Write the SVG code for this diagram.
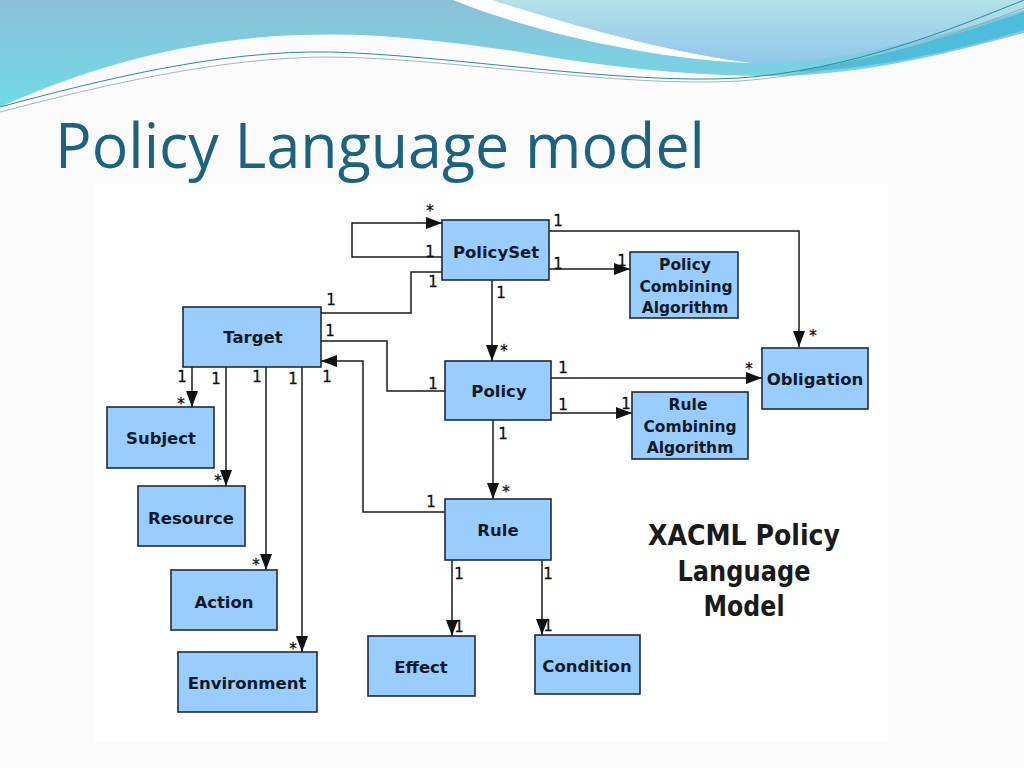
<svg xmlns="http://www.w3.org/2000/svg" width="1024" height="768" viewBox="0 0 1024 768">
<defs>
<linearGradient id="gBlue" x1="0" y1="0" x2="0" y2="110" gradientUnits="userSpaceOnUse">
<stop offset="0" stop-color="#8cc0d8"/>
<stop offset="1" stop-color="#6edce9"/>
</linearGradient>
<linearGradient id="gLight" x1="0" y1="0" x2="0" y2="65" gradientUnits="userSpaceOnUse">
<stop offset="0" stop-color="#b3e2e9"/>
<stop offset="1" stop-color="#90c6ea"/>
</linearGradient>
<marker id="arr" markerUnits="userSpaceOnUse" markerWidth="16" markerHeight="12" refX="16" refY="6" orient="auto">
<path d="M0,0 L16,6 L0,12 Z" fill="#111"/>
</marker>
<style>
.box{fill:#99ccff;stroke:#1d2b3a;stroke-width:1.6}
.lbl{font-family:"DejaVu Sans","Liberation Sans",sans-serif;font-weight:bold;font-size:16.5px;fill:#111a24;text-anchor:middle}
.lbl2{font-family:"DejaVu Sans","Liberation Sans",sans-serif;font-weight:bold;font-size:15.5px;fill:#111a24;text-anchor:middle}
.m{font-family:"DejaVu Sans","Liberation Sans",sans-serif;font-size:15px;fill:#111;stroke:#111;stroke-width:0.3;text-anchor:middle}
.c{fill:none;stroke:#1a1a1a;stroke-width:1.5}
.ca{fill:none;stroke:#1a1a1a;stroke-width:1.5;marker-end:url(#arr)}
.xt{font-family:"DejaVu Sans","Liberation Sans",sans-serif;font-weight:bold;font-size:28px;fill:#1a1a1a;text-anchor:middle}
</style>
</defs>
<rect x="0" y="0" width="1024" height="768" fill="#fbfbfb"/>
<!-- header waves -->
<path d="M0,0 H1024 V33 C960,50 860,78 760,76 C680,75 600,66 520,52 C450,42 380,32 300,35 C200,38 100,62 0,107 Z" fill="url(#gBlue)"/>
<path d="M453,0 C540,35 660,60 753,63 C680,55 570,25 493,0 Z" fill="#ffffff"/>
<path d="M493,0 C570,25 680,55 753,63 C830,64 930,40 1024,10 V0 Z" fill="url(#gLight)"/>
<path d="M800,70 C880,58 960,34 1024,12 V30 C960,50 880,68 800,72 Z" fill="#4cbedc"/>
<path d="M0,107 C100,80 220,50 330,52 C450,55 620,85 740,78 C850,70 950,30 1024,0" fill="none" stroke="#2b8d9c" stroke-width="1"/>
<path d="M0,112 C100,86 220,57 330,57 C450,58 620,88 740,81 C850,73 950,36 1024,8" fill="none" stroke="#8aa4ae" stroke-width="0.8"/>
<text x="55" y="168" font-family="'Open Sans','Noto Sans',sans-serif" font-size="62" fill="#1d627e" textLength="650" lengthAdjust="spacingAndGlyphs">Policy Language model</text>
<!-- diagram panel -->
<rect x="94" y="184" width="794" height="558" fill="#ffffff"/>
<g id="connectors">
<path class="ca" d="M442,257 H352 V223 H442"/>
<path class="ca" d="M549,231 H799 V347"/>
<path class="ca" d="M549,269 H630"/>
<path class="ca" d="M492,280 V361"/>
<path class="c" d="M321,313 H411 V272 H442"/>
<path class="c" d="M321,341 H387 V391 H445"/>
<path class="ca" d="M551,378 H762"/>
<path class="ca" d="M551,413 H632"/>
<path class="ca" d="M493,420 V499"/>
<path class="ca" d="M445,512 H363 V361 H321"/>
<path class="ca" d="M192,367 V407"/>
<path class="ca" d="M226,367 V486"/>
<path class="ca" d="M266,367 V570"/>
<path class="ca" d="M302,367 V652"/>
<path class="ca" d="M452,560 V636"/>
<path class="ca" d="M542,560 V635"/>
</g>
<g id="multiplicities">
<text class="m" x="430" y="216">*</text>
<text class="m" x="558" y="226">1</text>
<text class="m" x="430" y="257">1</text>
<text class="m" x="433" y="287">1</text>
<text class="m" x="558" y="269">1</text>
<text class="m" x="622" y="266">1</text>
<text class="m" x="501" y="298">1</text>
<text class="m" x="331" y="305">1</text>
<text class="m" x="330" y="336">1</text>
<text class="m" x="433" y="389">1</text>
<text class="m" x="182" y="382">1</text>
<text class="m" x="216" y="384">1</text>
<text class="m" x="257" y="382">1</text>
<text class="m" x="293" y="384">1</text>
<text class="m" x="327" y="382">1</text>
<text class="m" x="181" y="409">*</text>
<text class="m" x="504" y="356">*</text>
<text class="m" x="563" y="373">1</text>
<text class="m" x="749" y="374">*</text>
<text class="m" x="563" y="410">1</text>
<text class="m" x="626" y="409">1</text>
<text class="m" x="503" y="439">1</text>
<text class="m" x="813" y="341">*</text>
<text class="m" x="218" y="486">*</text>
<text class="m" x="256" y="570">*</text>
<text class="m" x="293" y="654">*</text>
<text class="m" x="506" y="497">*</text>
<text class="m" x="431" y="507">1</text>
<text class="m" x="459" y="579">1</text>
<text class="m" x="548" y="579">1</text>
<text class="m" x="459" y="632">1</text>
<text class="m" x="548" y="631">1</text>
</g>
<g id="PolicySet"><rect class="box" x="442" y="220" width="107" height="60"/><text class="lbl" x="496" y="258">PolicySet</text></g>
<g id="PolicyCombiningAlgorithm"><rect class="box" x="630" y="252" width="108" height="66"/><text class="lbl2" x="685" y="270">Policy</text><text class="lbl2" x="686" y="292">Combining</text><text class="lbl2" x="685" y="313">Algorithm</text></g>
<g id="Target"><rect class="box" x="183" y="307" width="138" height="60"/><text class="lbl" x="253" y="343">Target</text></g>
<g id="Policy"><rect class="box" x="445" y="361" width="106" height="59"/><text class="lbl" x="499" y="397">Policy</text></g>
<g id="Obligation"><rect class="box" x="762" y="348" width="106" height="61"/><text class="lbl" x="815" y="385">Obligation</text></g>
<g id="RuleCombiningAlgorithm"><rect class="box" x="632" y="392" width="116" height="67"/><text class="lbl2" x="688" y="410">Rule</text><text class="lbl2" x="690" y="432">Combining</text><text class="lbl2" x="690" y="453">Algorithm</text></g>
<g id="Subject"><rect class="box" x="107" y="407" width="107" height="61"/><text class="lbl" x="161" y="444">Subject</text></g>
<g id="Resource"><rect class="box" x="138" y="486" width="107" height="60"/><text class="lbl" x="191" y="524">Resource</text></g>
<g id="Action"><rect class="box" x="171" y="570" width="106" height="60"/><text class="lbl" x="224" y="608">Action</text></g>
<g id="Environment"><rect class="box" x="178" y="652" width="139" height="60"/><text class="lbl" x="247" y="689">Environment</text></g>
<g id="Rule"><rect class="box" x="445" y="499" width="106" height="61"/><text class="lbl" x="498" y="536">Rule</text></g>
<g id="Effect"><rect class="box" x="368" y="636" width="107" height="60"/><text class="lbl" x="421" y="673">Effect</text></g>
<g id="Condition"><rect class="box" x="535" y="635" width="105" height="59"/><text class="lbl" x="587" y="672">Condition</text></g>
<g id="caption">
<text class="xt" x="744" y="545" textLength="192" lengthAdjust="spacingAndGlyphs">XACML Policy</text>
<text class="xt" x="744" y="581" textLength="133" lengthAdjust="spacingAndGlyphs">Language</text>
<text class="xt" x="744" y="616" textLength="81" lengthAdjust="spacingAndGlyphs">Model</text>
</g>
</svg>
